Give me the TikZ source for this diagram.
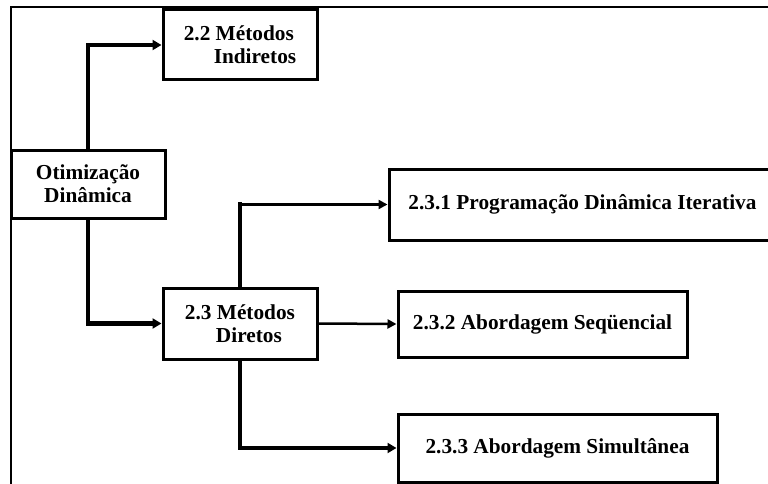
\documentclass[tikz,border=0pt]{standalone}
\usepackage{fontspec}
\setmainfont{Liberation Serif}
\usetikzlibrary{positioning,arrows.meta}

\begin{document}
\begin{tikzpicture}
            [
            x=1pt, y=-1pt,
            box/.style={draw, line width=3pt, fill=white, inner sep=0pt,
                minimum width=#1, font=\bfseries\fontsize{21.3}{23}\selectfont},
            link/.style={line width=4.5pt, -{Triangle[length=9pt, width=10pt]}},
            thin link/.style={line width=2.5pt, -{Triangle[length=9pt, width=9pt]}}
            ]
            \clip (0,0) rectangle (768,484);
            \useasboundingbox (0,0) rectangle (768,484);

            % outer frame (cut by the page edge)
            \draw [line width=2pt] (11,7) rectangle (790,500);

            \node (otim) [box=154pt, minimum height=68pt, align=center] at (88,184)
                {Otimização\\Dinâmica};
            \node (ind) [box=154pt, minimum height=70pt, align=left] at (240,45)
                {2.2 Métodos\\\hspace*{30pt}Indiretos};
            \node (dir) [box=154pt, minimum height=71pt, align=left] at (240,323.5)
                {2.3 Métodos\\\hspace*{31pt}Diretos};

            % direct methods
            \node (pdi) [box=387pt, minimum height=71pt] at (582.5,204.5)
                {2.3.1 Programação Dinâmica Iterativa};
            \node (seq) [box=289pt, minimum height=66pt] at (542.5,324)
                {2.3.2 Abordagem Seqüencial};
            \node (sim) [box=319pt, minimum height=68pt] at (557.5,448)
                {2.3.3 Abordagem Simultânea};

            \foreach \i/\j in {otim.north/ind.west,otim.south/dir.west,dir.south/sim.west}
            \draw [link] (\i) |- (\j);

            \coordinate (up) at (dir.north |- pdi.west);
            \draw [line width=4.5pt, line cap=rect] (dir.north) -- (up);
            \draw [thin link] (up) -- (pdi.west);
            \draw [thin link] (dir.east) -- (seq.west);
        \end{tikzpicture}
\end{document}
